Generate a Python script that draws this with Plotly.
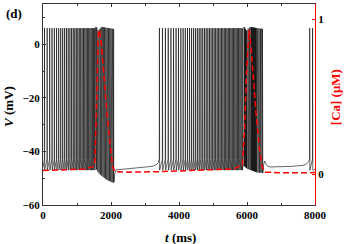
import plotly.graph_objects as go

# ---------------- data ----------------
# membrane potential V (mV)
burst1_spikes = [40, 118, 192, 262, 330, 395, 457, 517, 575, 631, 685, 737, 788, 837,
                 885, 931, 976, 1020, 1063, 1105, 1146, 1186, 1225, 1264, 1302, 1339,
                 1376, 1412, 1448, 1484, 1515]
block1_times = [1535, 1555, 1574, 1593, 1612, 1631, 1650, 1669, 1688, 1707, 1726, 1745,
                1764, 1783, 1802, 1821, 1840, 1859, 1878, 1897, 1916, 1935, 1954, 1973,
                1992, 2011, 2030, 2049, 2068, 2082]
block1_low = [-46.0, -46.3, -46.8, -47.2, -47.6, -48.0, -48.2, -48.5, -48.7, -48.9, -49.1,
              -49.3, -49.5, -49.7, -49.9, -50.1, -50.3, -50.5, -50.6, -50.8, -50.9, -51.0,
              -51.1, -51.2, -51.3, -51.4, -51.5, -51.6, -51.6, -51.6]
block1_peak = [6.3, 6.4, 6.2, 5.6, 5.2, 5.0, 5.3, 5.7, 6.0, 6.2, 6.3, 6.4, 6.4, 6.4, 6.3,
               6.3, 6.2, 6.2, 6.1, 6.1, 6.0, 6.0, 6.0, 5.9, 5.9, 5.8, 5.8, 5.8, 5.7, 5.6]
quiet1_t = [2090, 2110, 2150, 2300, 2600, 2900, 3200, 3330, 3390, 3412]
quiet1_v = [-51.5, -48.5, -46.9, -46.7, -46.4, -46.1, -45.6, -45.0, -44.2, -43.0]

burst2_spikes = [3420, 3510, 3596, 3679, 3759, 3836, 3910, 3981, 4050, 4117, 4182, 4245,
                 4306, 4366, 4424, 4480, 4535, 4589, 4642, 4694, 4745, 4795, 4844, 4892,
                 4939, 4985, 5030, 5074, 5118, 5161, 5203, 5245, 5286, 5327, 5367, 5407,
                 5446, 5485, 5524, 5562, 5600, 5638, 5675, 5712, 5749, 5786, 5822, 5858]
block2_times = [5885, 5905, 5925, 5945, 5965, 5985, 6005, 6025, 6045, 6065, 6085, 6105,
                6125, 6145, 6165, 6185, 6205, 6225, 6245, 6265, 6285, 6305, 6325, 6345,
                6365, 6385, 6405, 6425, 6445, 6458]
block2_low = [-45.0, -45.2, -45.5, -45.8, -46.0, -46.2, -46.4, -46.5, -46.6, -46.7, -46.8,
              -46.9, -47.0, -47.1, -47.2, -47.3, -47.4, -47.5, -47.6, -47.7, -47.8, -47.8,
              -47.9, -47.9, -48.0, -48.0, -48.0, -48.0, -48.0, -48.0]
block2_peak = [6.3, 6.4, 6.2, 5.6, 5.2, 5.1, 5.4, 5.8, 6.1, 6.2, 6.3, 6.4, 6.4, 6.3, 6.3,
               6.2, 6.2, 6.1, 6.1, 6.0, 6.0, 6.0, 5.9, 5.9, 5.8, 5.8, 5.8, 5.7, 5.7, 5.6]
quiet2_t = [6465, 6490, 6520, 6550, 6600, 6680, 6900, 7300, 7650, 7760, 7810, 7832]
quiet2_v = [-48.0, -45.0, -43.6, -44.5, -45.5, -45.8, -45.8, -45.6, -45.2, -44.6, -43.8, -43.0]
final_spikes = [7840, 7925]
end_t = [7960, 8000]
end_v = [-47.0, -46.5]

spike_peak = 6.0
spike_ahp = -47.0
spike_thresh = -43.0

# calcium concentration [Ca] (uM)
ca_t = [0, 600, 1200, 1480, 1530, 1578, 1627, 1656, 1700, 1774, 1872, 1970, 2048, 2117,
        2500, 3400, 4500, 5600, 5866, 5930, 5980, 6030, 6059, 6110, 6180, 6270, 6360,
        6440, 6540, 7000, 7800, 8000]
ca_v = [0.022, 0.025, 0.032, 0.047, 0.09, 0.48, 0.91, 0.93, 0.87, 0.69, 0.41, 0.20,
        0.047, 0.015, 0.012, 0.015, 0.022, 0.033, 0.058, 0.30, 0.62, 0.88, 0.93, 0.84,
        0.62, 0.38, 0.18, 0.05, 0.012, 0.008, 0.008, 0.01]

# ---------------- build the voltage trace ----------------
vt, vv = [0], [-46.0]


def add_spikes(times):
    for t in times:
        vt.extend([t, t + 4, t + 10])
        vv.extend([spike_thresh, spike_peak, spike_ahp])


def add_block(times, lows, peaks):
    for t, lo, pk in zip(times, lows, peaks):
        vt.extend([t, t + 9])
        vv.extend([lo, pk])


add_spikes(burst1_spikes)
add_block(block1_times, block1_low, block1_peak)
vt.extend(quiet1_t); vv.extend(quiet1_v)
add_spikes(burst2_spikes)
add_block(block2_times, block2_low, block2_peak)
vt.extend(quiet2_t); vv.extend(quiet2_v)
add_spikes(final_spikes)
vt.extend(end_t); vv.extend(end_v)

FONT = "Liberation Serif"

fig = go.Figure()
fig.add_trace(go.Scatter(x=vt, y=vv, mode="lines",
                         line=dict(color="black", width=0.6), showlegend=False))
fig.add_trace(go.Scatter(x=ca_t, y=ca_v, mode="lines", yaxis="y2",
                         line=dict(color="#ff0000", width=1.5, dash="6px,3px"),
                         showlegend=False))

fig.update_layout(
    width=344, height=244,
    margin=dict(l=43, r=29, t=4, b=39, autoexpand=False),
    paper_bgcolor="white", plot_bgcolor="white",
    font=dict(family=FONT, size=11, color="black", weight="bold"),
    xaxis=dict(range=[0, 8000], showgrid=False, zeroline=False, automargin=False,
               showline=True, linecolor="#333", linewidth=1, mirror="ticks",
               ticks="inside", ticklen=3, tickcolor="#333", dtick=2000, tick0=0,
               minor=dict(ticks="inside", ticklen=2, dtick=1000, tickcolor="#333"),
               tickfont=dict(family=FONT, size=11, weight="bold")),
    yaxis=dict(range=[-60, 15], showgrid=False, zeroline=False, automargin=False,
               showline=True, linecolor="#333", linewidth=1,
               ticks="inside", ticklen=3, tickcolor="#333", dtick=20, tick0=0,
               minor=dict(ticks="inside", ticklen=2, dtick=10, tickcolor="#333"),
               tickfont=dict(family=FONT, size=11, weight="bold")),
    yaxis2=dict(range=[-0.2, 1.097], overlaying="y", side="right", automargin=False,
                showgrid=False, zeroline=False,
                showline=True, linecolor="#ff0000", linewidth=1,
                ticks="inside", ticklen=3, tickcolor="#ff0000",
                tickvals=[0, 1], ticktext=["0", "1"],
                tickfont=dict(family=FONT, size=11, weight="bold", color="black")),
    annotations=[
        dict(text="(d)", xref="paper", yref="paper", x=-0.145, y=1.0,
             xanchor="left", yanchor="top", showarrow=False,
             font=dict(family=FONT, size=13, weight="bold")),
        dict(text="<i>V</i> (mV)", xref="paper", yref="paper", x=-0.129, y=0.4925,
             xanchor="center", yanchor="middle", textangle=-90, showarrow=False,
             font=dict(family=FONT, size=13, weight="bold")),
        dict(text="<i>t</i> (ms)", xref="paper", yref="paper", x=0.504, y=-0.163,
             xanchor="center", yanchor="middle", showarrow=False,
             font=dict(family=FONT, size=13, weight="bold")),
        dict(text="[Ca] (μM)", xref="paper", yref="paper", x=1.074, y=0.537,
             xanchor="center", yanchor="middle", textangle=-90, showarrow=False,
             font=dict(family=FONT, size=13, weight="bold", color="#ff0000")),
    ],
)

fig.write_html("out.html", config={"displayModeBar": False},
               post_script="document.body.style.margin='0';")
